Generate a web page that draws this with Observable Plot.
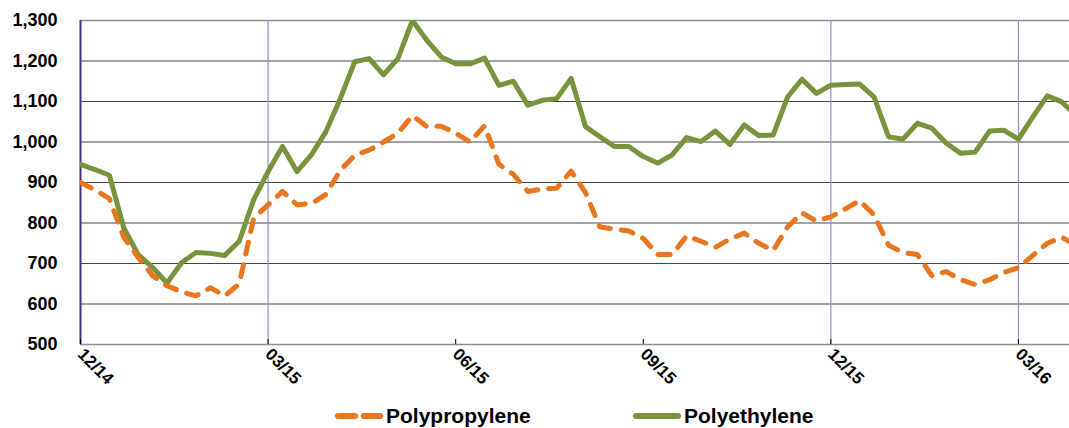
<!DOCTYPE html>
<html><head><meta charset="utf-8">
<script src="https://cdn.jsdelivr.net/npm/d3@7"></script>
<script src="https://cdn.jsdelivr.net/npm/@observablehq/plot@0.6"></script>
<style>
body{margin:0;background:#fff;font-family:"Liberation Sans",Arial,sans-serif;}
#wrap{position:relative;width:1069px;height:428px;overflow:hidden;background:#fff;}
.leg{position:absolute;top:404px;height:23px;display:flex;align-items:center;font-weight:bold;font-size:21px;color:#000;line-height:23px;}
.leg svg{margin-right:2px;}
</style></head><body><div id="wrap"></div>
<script>
// Weekly prices, Dec 2014 – Mar 2016
const polypropylene = [900,882,860,765,715,670,645,630,620,640,620,650,812,845,878,845,848,870,
  930,967,980,1000,1022,1065,1038,1039,1022,1000,1040,945,920,878,884,886,928,
  875,790,785,780,762,722,722,768,755,740,760,775,750,732,790,825,805,815,
  835,855,820,745,727,722,670,680,660,648,660,678,690,720,750,765,745];
const polyethylene = [945,932,918,788,722,690,652,702,727,725,720,755,857,927,989,927,968,1025,
  1107,1198,1206,1166,1206,1300,1251,1210,1193,1193,1207,1140,1150,1091,1103,1107,1157,
  1038,1013,989,989,964,948,968,1011,1001,1027,994,1042,1016,1017,1111,1155,1120,1140,
  1142,1143,1111,1013,1007,1046,1034,997,972,975,1027,1029,1007,1062,1114,1099,1066];
const tickLabels = ["12/14","03/15","06/15","09/15","12/15","03/16"];
const tickWeeks = [0,13,26,39,52,65];
const dividerWeeks = [13,52,65];
const yTicks = [500,600,700,800,900,1000,1100,1200,1300];
const innerGrid = [600,700,800,900,1000,1100,1200];
const frameLines = [500,1300];
const seriesNames = ["Polypropylene","Polyethylene"];
const colors = {pp:"#e8761e", pe:"#77933c"};

const data = polypropylene.map((v,i)=>({week:i, pp:v, pe:polyethylene[i]}));

const chart = Plot.plot({
  width:1069, height:400, marginLeft:80, marginRight:0, marginTop:20, marginBottom:56,
  style:{fontFamily:'"Liberation Sans", Arial, sans-serif', fontWeight:'bold', color:'#000', background:'#fff', overflow:'visible'},
  x:{domain:[0,68.54], label:null},
  y:{domain:[500,1300], label:null},
  marks:[
    Plot.ruleY(innerGrid, {stroke:"#444", strokeWidth:1.2}),
    Plot.ruleY(frameLines, {stroke:"#8a8a8a", strokeWidth:1.6}),
    Plot.ruleX(dividerWeeks, {stroke:"#9b8ac9", strokeWidth:1.2}),
    Plot.ruleX([0], {stroke:"#3f2f85", strokeWidth:2}),
    Plot.axisY({ticks:yTicks, tickFormat:d3.format(","), tickSize:0, tickPadding:23, fontSize:18, label:null}),
    Plot.axisX({ticks:tickWeeks, tickSize:-5, text:null, stroke:"#000", label:null}),
    Plot.axisX({ticks:tickWeeks, tickFormat:d=>tickLabels[tickWeeks.indexOf(d)], tickSize:0, tickPadding:7, tickRotate:45, fontSize:17, label:null}),
    Plot.line(data,{x:"week", y:"pe", stroke:colors.pe, strokeWidth:5, strokeLinejoin:"round", clip:true}),
    Plot.line(data,{x:"week", y:"pp", stroke:colors.pp, strokeWidth:5, strokeDasharray:"12,11", strokeLinecap:"round", strokeLinejoin:"round", clip:true})
  ]
});
const wrap = document.getElementById("wrap");
wrap.appendChild(chart);

function legendItem(left, name, color, dashed){
  const d = document.createElement("div");
  d.className = "leg";
  d.style.left = left + "px";
  d.innerHTML = `<svg width="50" height="10"><line x1="4" y1="5" x2="46" y2="5" stroke="${color}" stroke-width="6" stroke-linecap="round" ${dashed?'stroke-dasharray="17,9"':''}/></svg><span>${name}</span>`;
  wrap.appendChild(d);
}
legendItem(334, seriesNames[0], colors.pp, true);
legendItem(632, seriesNames[1], colors.pe, false);
</script></body></html>
